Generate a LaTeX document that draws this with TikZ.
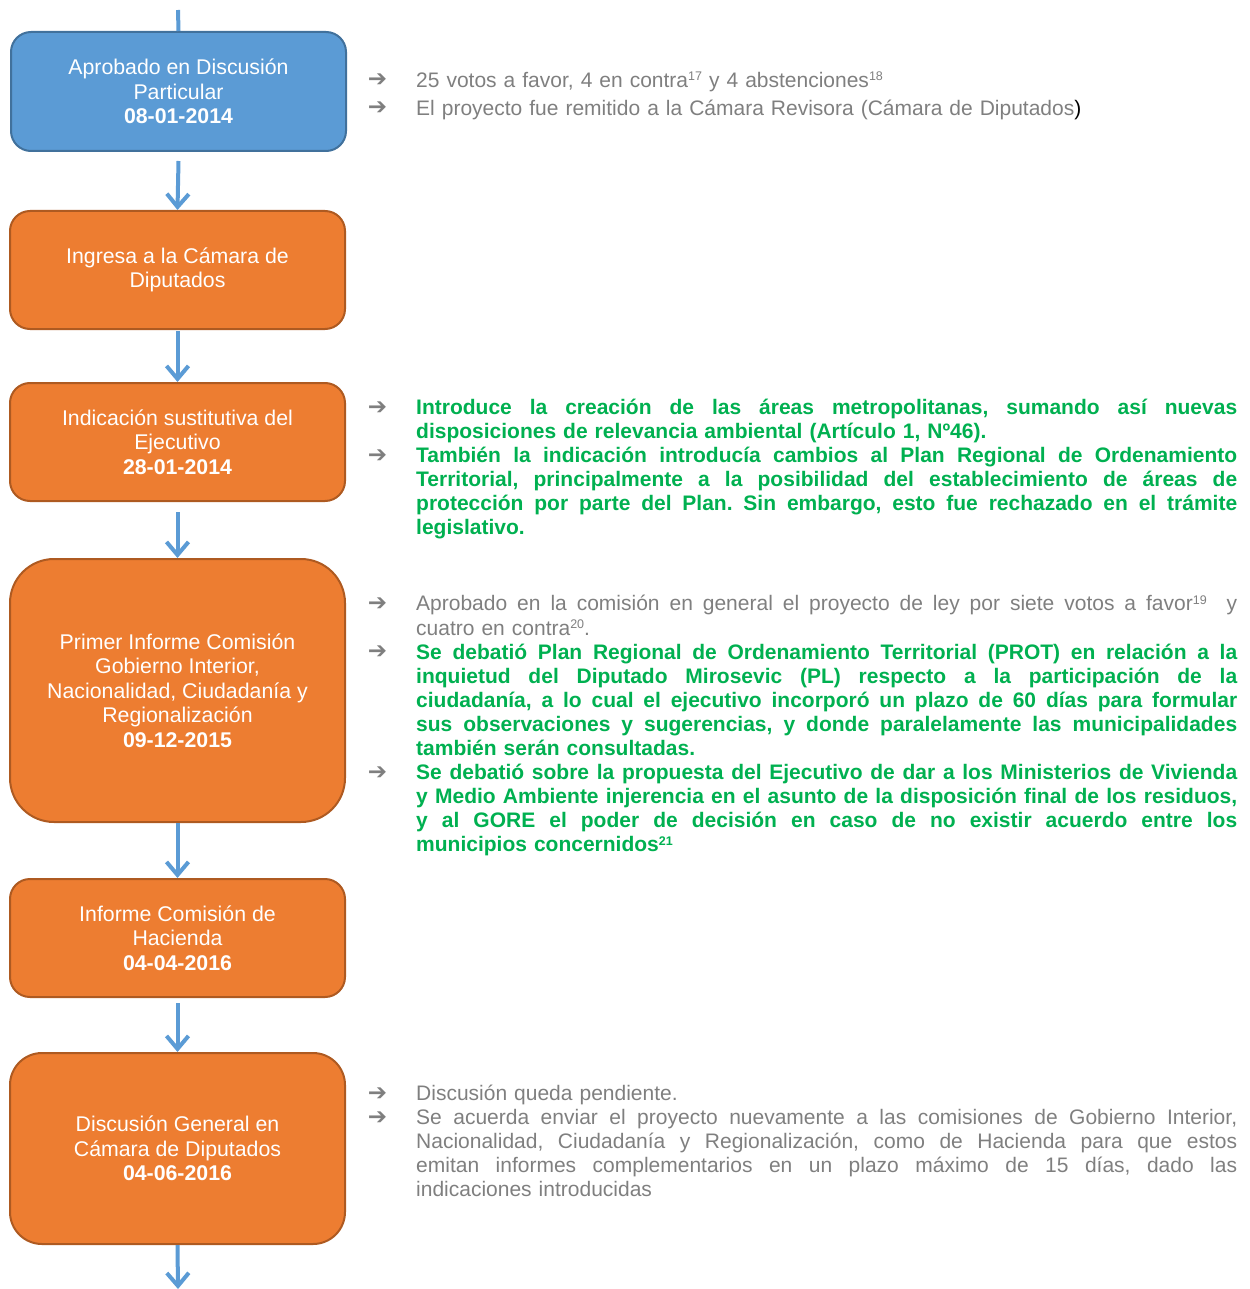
\documentclass[tikz,border=0pt]{standalone}
\usepackage{fontspec}
\setmainfont{Liberation Sans}
\newfontfamily\symfont{DejaVu Sans}
\usetikzlibrary{arrows.meta}
\definecolor{boxblue}{HTML}{5B9BD5}
\definecolor{boxblueedge}{HTML}{41719C}
\definecolor{boxorange}{HTML}{ED7D31}
\definecolor{boxorangeedge}{HTML}{AE5A21}
\definecolor{flowblue}{HTML}{5B9BD5}
\definecolor{notegray}{HTML}{7F7F7F}
\definecolor{notegreen}{HTML}{00B050}
% one justified line (spaces share the slack evenly) and one flush-left closing line
\newcommand{\jline}[1]{\hbox to 821pt{\frenchspacing\spaceskip=0.278em plus 1fil\strut #1}}
\newcommand{\lline}[1]{\hbox to 821pt{\strut #1\hfil}}
% footnote number
\newcommand{\fnum}[1]{\raisebox{6.5pt}{\fontsize{12.5}{12.5}\selectfont #1}}
\begin{document}
\begin{tikzpicture}[x=1pt,y=-1pt,
  stage/.style={draw, line width=2pt, align=center, text=white,
    font=\fontsize{21.3}{24.5}\selectfont, minimum width=335pt, inner sep=0pt},
  bluestage/.style={stage, fill=boxblue, draw=boxblueedge},
  orangestage/.style={stage, fill=boxorange, draw=boxorangeedge},
  flowline/.style={draw=flowblue, line width=4pt},
  flow/.style={flowline, -{Straight Barb[length=13pt,width=22pt]}},
  note/.style={anchor=north west, inner sep=0pt, text width=821pt,
    font=\fontsize{21}{24.1}\selectfont},
  bullet/.style={anchor=base, inner sep=0pt, text=notegray,
    font=\symfont\bfseries\fontsize{23}{23}\selectfont}]
\useasboundingbox (0,0) rectangle (1249,1289);

% ---- stages of the bill ----
\node[bluestage, minimum height=119pt, rounded corners=20pt] (s1) at (178.5,91.5)
  {Aprobado en Discusión\\Particular\\\textbf{08-01-2014}};
\node[orangestage, minimum height=118pt, rounded corners=20pt] (s2) at (177.5,270)
  {Ingresa a la Cámara de\\Diputados};
\node[orangestage, minimum height=118pt, rounded corners=20pt] (s3) at (177.5,442)
  {Indicación sustitutiva del\\Ejecutivo\\\textbf{28-01-2014}};
\node[orangestage, minimum height=263pt, rounded corners=44pt] (s4) at (177.5,690.5)
  {Primer Informe Comisión\\Gobierno Interior,\\Nacionalidad, Ciudadanía y\\Regionalización\\\textbf{09-12-2015}};
\node[orangestage, minimum height=118pt, rounded corners=20pt] (s5) at (177.5,938)
  {Informe Comisión de\\Hacienda\\\textbf{04-04-2016}};
\node[orangestage, minimum height=191pt, rounded corners=32pt] (s6) at (177.5,1148.5)
  {Discusión General en\\Cámara de Diputados\\\textbf{04-06-2016}};

% ---- flow between stages ----
\coordinate (top) at (178,10);
\coordinate (bottom) at (178,1289);
\draw[flowline] (top) -- (s1.north);
\draw[flow] ([yshift=-9pt]s1.south) -- (s2.north);
\draw[flow] ([yshift=-1pt]s2.south) -- (s3.north);
\draw[flow] ([yshift=-10pt]s3.south) -- (s4.north);
\draw[flow] (s4.south) -- (s5.north);
\draw[flow] ([yshift=-5pt]s5.south) -- (s6.north);
\draw[flow] (s6.south) -- (bottom);

% ---- notes beside the stages ----
\node[bullet] (a1) at (377.5,87) {➔};
\node[note, text=notegray] (n1a) at (416,70.2)
  {\lline{25 votos a favor, 4 en contra\fnum{17} y 4 abstenciones\fnum{18}}};
\node[bullet] (a2) at (377.5,115) {➔};
\node[note, text=notegray] (n1b) at (416,98.2)
  {\lline{El proyecto fue remitido a la Cámara Revisora (Cámara de Diputados{\color{black})}}};

\node[bullet] (a3) at (377.5,414) {➔};
\node[bullet] (a4) at (377.5,462.2) {➔};
\node[note, text=notegreen, font=\bfseries\fontsize{21}{24.1}\selectfont] (n3) at (416,397.2)
  {\jline{Introduce la creación de las áreas metropolitanas, sumando así nuevas}
   \lline{disposiciones de relevancia ambiental (Artículo 1, Nº46).}
   \jline{También la indicación introducía cambios al Plan Regional de Ordenamiento}
   \jline{Territorial, principalmente a la posibilidad del establecimiento de áreas de}
   \jline{protección por parte del Plan. Sin embargo, esto fue rechazado en el trámite}
   \lline{legislativo.}};

\node[bullet] (a5) at (377.5,610.7) {➔};
\node[bullet] (a6) at (377.5,658.9) {➔};
\node[bullet] (a7) at (377.5,779.4) {➔};
\node[note, text=notegreen, font=\bfseries\fontsize{21}{24.1}\selectfont] (n4) at (416,593.9)
  {\jline{\mdseries\color{notegray}Aprobado en la comisión en general el proyecto de ley por siete votos a favor\fnum{19}\ \ y}
   \lline{\mdseries\color{notegray}cuatro en contra\fnum{20}.}
   \jline{Se debatió Plan Regional de Ordenamiento Territorial (PROT) en relación a la}
   \jline{inquietud del Diputado Mirosevic (PL) respecto a la participación de la}
   \jline{ciudadanía, a lo cual el ejecutivo incorporó un plazo de 60 días para formular}
   \jline{sus observaciones y sugerencias, y donde paralelamente las municipalidades}
   \lline{también serán consultadas.}
   \jline{Se debatió sobre la propuesta del Ejecutivo de dar a los Ministerios de Vivienda}
   \jline{y Medio Ambiente injerencia en el asunto de la disposición final de los residuos,}
   \jline{y al GORE el poder de decisión en caso de no existir acuerdo entre los}
   \lline{municipios concernidos\fnum{21}}};

\node[bullet] (a8) at (377.5,1100) {➔};
\node[bullet] (a9) at (377.5,1124.1) {➔};
\node[note, text=notegray] (n6) at (416,1083.2)
  {\lline{Discusión queda pendiente.}
   \jline{Se acuerda enviar el proyecto nuevamente a las comisiones de Gobierno Interior,}
   \jline{Nacionalidad, Ciudadanía y Regionalización, como de Hacienda para que estos}
   \jline{emitan informes complementarios en un plazo máximo de 15 días, dado las}
   \lline{indicaciones introducidas}};
\end{tikzpicture}
\end{document}
